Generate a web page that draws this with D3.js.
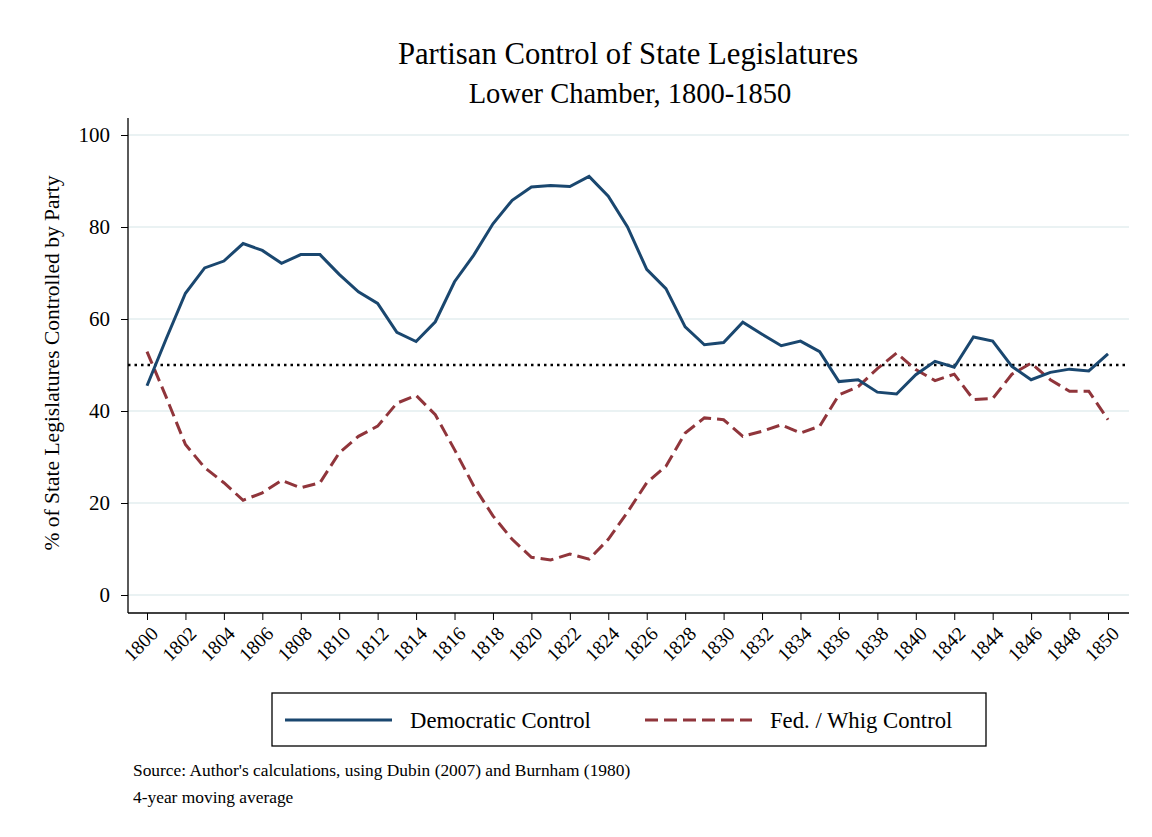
<!DOCTYPE html>
<html>
<head>
<meta charset="utf-8">
<script src="https://cdn.jsdelivr.net/npm/d3@7"></script>
<style>
  body { margin: 0; background: #fff; }
  svg text { font-family: "Liberation Serif", "DejaVu Serif", serif; fill: #000; }
</style>
</head>
<body>
<div id="chart"></div>
<script>
var years = d3.range(1800, 1851);
var demControl = [45.5, 55.7, 65.6, 71.1, 72.6, 76.4, 74.9, 72.1, 74.0, 74.0,
  69.7, 65.9, 63.4, 57.1, 55.1, 59.4, 68.1, 73.9, 80.7, 85.8,
  88.7, 89.0, 88.8, 91.0, 86.7, 80.0, 70.8, 66.6, 58.3, 54.4,
  54.9, 59.3, 56.7, 54.2, 55.2, 52.9, 46.4, 46.8, 44.1, 43.7,
  47.9, 50.8, 49.5, 56.1, 55.2, 49.7, 46.8, 48.4, 49.1, 48.7, 52.4];
var fedWhigControl = [52.9, 43.0, 32.7, 27.7, 24.4, 20.6, 22.2, 24.9, 23.3, 24.4,
  30.9, 34.5, 36.7, 41.7, 43.4, 39.2, 31.6, 23.7, 17.2, 12.1,
  8.2, 7.6, 8.9, 7.8, 12.1, 18.0, 24.4, 28.0, 35.2, 38.5,
  38.1, 34.5, 35.6, 37.0, 35.2, 36.7, 43.5, 45.3, 49.2, 52.6,
  49.0, 46.6, 48.0, 42.5, 42.7, 48.0, 50.4, 46.8, 44.3, 44.3, 38.1];
var yTicks = [0, 20, 40, 60, 80, 100];
var xTicks = d3.range(1800, 1851, 2);
var seriesNames = ["Democratic Control", "Fed. / Whig Control"];

var width = 1152, height = 837;
var plotLeft = 128, plotRight = 1129, plotTop = 118, plotBottom = 613;
var blue = "#1a476f", red = "#90353b";

var svg = d3.select("#chart").append("svg")
  .attr("width", width)
  .attr("height", height);

svg.append("rect").attr("width", width).attr("height", height).attr("fill", "#fff");

var x = d3.scaleLinear().domain([1800, 1850]).range([147, 1108]);
var y = d3.scaleLinear().domain([0, 100]).range([595, 135]);

// titles
svg.append("text")
  .attr("x", 628).attr("y", 64)
  .attr("text-anchor", "middle")
  .style("font-size", "30.7px")
  .text("Partisan Control of State Legislatures");
svg.append("text")
  .attr("x", 630).attr("y", 103)
  .attr("text-anchor", "middle")
  .style("font-size", "28.5px")
  .text("Lower Chamber, 1800-1850");

// gridlines
svg.append("g").selectAll("line")
  .data(yTicks)
  .enter().append("line")
    .attr("x1", plotLeft).attr("x2", plotRight)
    .attr("y1", function(d) { return y(d); })
    .attr("y2", function(d) { return y(d); })
    .attr("stroke", "#eaf2f3")
    .attr("stroke-width", 2);

// y axis
var yAxis = svg.append("g")
  .attr("transform", "translate(" + plotLeft + ",0)")
  .call(d3.axisLeft(y).tickValues(yTicks).tickSize(7).tickPadding(11));
yAxis.select(".domain").remove();
yAxis.selectAll("line").attr("stroke", "#000");
yAxis.selectAll("text").style("font-size", "21px").style("font-family", "Liberation Serif");
svg.append("line")
  .attr("x1", plotLeft).attr("x2", plotLeft)
  .attr("y1", plotTop).attr("y2", plotBottom)
  .attr("stroke", "#000").attr("stroke-width", 1.3);

svg.append("text")
  .attr("transform", "translate(59," + 363 + ") rotate(-90)")
  .attr("text-anchor", "middle")
  .style("font-size", "21.5px")
  .text("% of State Legislatures Controlled by Party");

// x axis
var xAxis = svg.append("g")
  .attr("transform", "translate(0," + plotBottom + ")")
  .call(d3.axisBottom(x).tickValues(xTicks).tickFormat(d3.format("d")).tickSize(7));
xAxis.select(".domain").remove();
xAxis.selectAll("line").attr("stroke", "#000");
xAxis.selectAll("text")
  .style("font-size", "19.5px")
  .style("font-family", "Liberation Serif")
  .style("text-anchor", "end")
  .attr("x", 0).attr("y", 0).attr("dy", "0.35em")
  .attr("transform", "translate(7,17) rotate(-45)");
svg.append("line")
  .attr("x1", plotLeft).attr("x2", plotRight)
  .attr("y1", plotBottom).attr("y2", plotBottom)
  .attr("stroke", "#000").attr("stroke-width", 1.3);

// 50% reference line
svg.append("line")
  .attr("x1", plotLeft).attr("x2", plotRight)
  .attr("y1", y(50)).attr("y2", y(50))
  .attr("stroke", "#000")
  .attr("stroke-width", 2.5)
  .attr("stroke-dasharray", "2.5,4");

var line = d3.line()
  .x(function(d, i) { return x(years[i]); })
  .y(function(d) { return y(d); });

svg.append("path")
  .datum(fedWhigControl)
  .attr("fill", "none")
  .attr("stroke", red)
  .attr("stroke-width", 3)
  .attr("stroke-dasharray", "13,6")
  .attr("d", line);

svg.append("path")
  .datum(demControl)
  .attr("fill", "none")
  .attr("stroke", blue)
  .attr("stroke-width", 3)
  .attr("d", line);

// legend
var legend = svg.append("g");
legend.append("rect")
  .attr("x", 272).attr("y", 693)
  .attr("width", 714).attr("height", 53)
  .attr("fill", "#fff")
  .attr("stroke", "#000")
  .attr("stroke-width", 1.3);
legend.append("line")
  .attr("x1", 285).attr("x2", 392).attr("y1", 720).attr("y2", 720)
  .attr("stroke", blue).attr("stroke-width", 3);
legend.append("text")
  .attr("x", 410).attr("y", 728)
  .style("font-size", "22.7px")
  .text(seriesNames[0]);
legend.append("line")
  .attr("x1", 645).attr("x2", 752).attr("y1", 720).attr("y2", 720)
  .attr("stroke", red).attr("stroke-width", 3)
  .attr("stroke-dasharray", "13,6");
legend.append("text")
  .attr("x", 770).attr("y", 728)
  .style("font-size", "22.7px")
  .text(seriesNames[1]);

// notes
svg.append("text")
  .attr("x", 133).attr("y", 776)
  .style("font-size", "17.4px")
  .text("Source: Author's calculations, using Dubin (2007) and Burnham (1980)");
svg.append("text")
  .attr("x", 133).attr("y", 803)
  .style("font-size", "17.4px")
  .text("4-year moving average");
</script>
</body>
</html>
